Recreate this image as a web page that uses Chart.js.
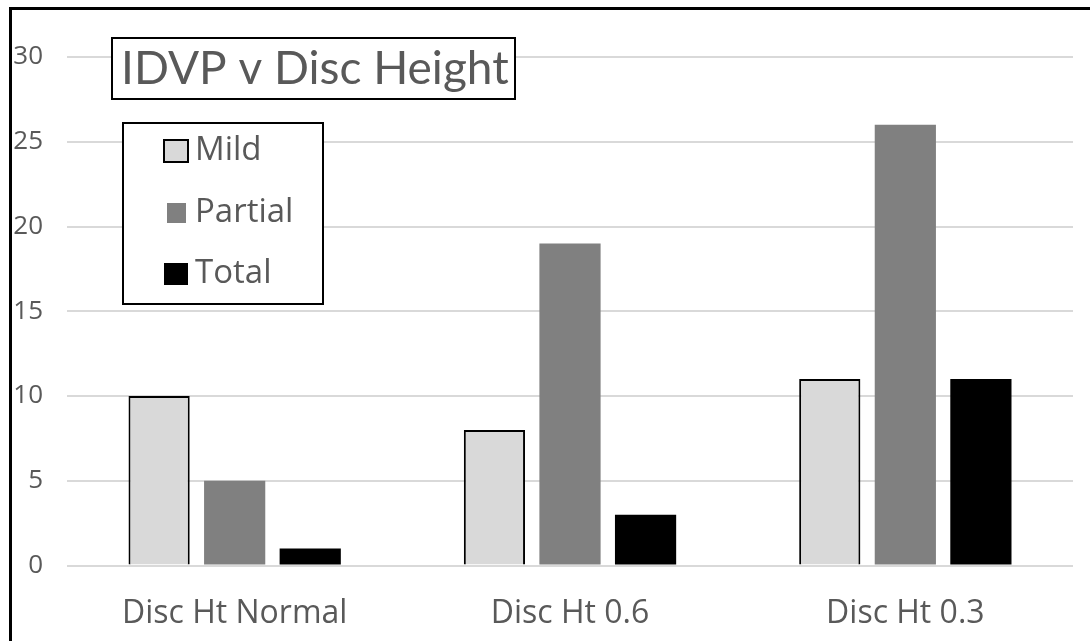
<!DOCTYPE html>
<html>
<head>
<meta charset="utf-8">
<script src="https://cdn.jsdelivr.net/npm/chart.js@4/dist/chart.umd.min.js"></script>
<style>
  html, body { margin: 0; padding: 0; background: #fff; }
  #wrap { width: 1090px; height: 641px; position: relative; }
</style>
</head>
<body>
<div id="wrap"><canvas id="c" width="1090" height="641"></canvas></div>
<script>
// Categories and series
const categories = ['Disc Ht Normal', 'Disc Ht 0.6', 'Disc Ht 0.3'];
const mild = [10, 8, 11];
const partial = [5, 19, 26];
const total = [1, 3, 11];
const yTicks = [0, 5, 10, 15, 20, 25, 30];
const chartTitle = 'IDVP v Disc Height';

const FONT = '"Open Sans", sans-serif';
const TITLE_FONT = 'Lato, "Open Sans", sans-serif';
const TEXT_GREY = '#595959';

// Outer frame, title box and legend box drawn on top of the chart
const decorations = {
  id: 'decorations',
  afterDraw(chart) {
    const ctx = chart.ctx;
    ctx.save();
    // outer frame (runs off the right and bottom edges)
    ctx.strokeStyle = '#000';
    ctx.lineWidth = 3;
    ctx.beginPath();
    ctx.moveTo(10.5, 650);
    ctx.lineTo(10.5, 8.5);
    ctx.lineTo(1100, 8.5);
    ctx.stroke();

    // title box
    ctx.fillStyle = '#fff';
    ctx.fillRect(112, 38, 403, 61);
    ctx.lineWidth = 2;
    ctx.strokeRect(112, 38, 403, 61);
    ctx.fillStyle = TEXT_GREY;
    ctx.font = '46px ' + TITLE_FONT;
    ctx.textBaseline = 'middle';
    ctx.textAlign = 'left';
    ctx.fillText(chartTitle, 121, 69);

    // legend box
    ctx.fillStyle = '#fff';
    ctx.fillRect(123, 123, 200, 181);
    ctx.strokeStyle = '#000';
    ctx.lineWidth = 2;
    ctx.strokeRect(123, 123, 200, 181);

    const rows = [150, 212, 273];
    const ds = chart.data.datasets;
    ctx.font = '33px ' + FONT;
    ds.forEach((d, i) => {
      const y = rows[i];
      ctx.fillStyle = d.backgroundColor;
      if (i === 1) {
        ctx.fillRect(167, y - 9, 19, 20);
      } else {
        ctx.fillRect(164, y - 10, 24, 22);
        if (d.borderWidth) {
          ctx.strokeStyle = '#000';
          ctx.lineWidth = 2;
          ctx.strokeRect(164, y - 10, 24, 22);
        }
      }
      ctx.fillStyle = TEXT_GREY;
      ctx.fillText(d.label, 195, y + 1);
    });
    ctx.restore();
  }
};

new Chart(document.getElementById('c'), {
  type: 'bar',
  data: {
    labels: categories,
    datasets: [
      { label: 'Mild', data: mild, backgroundColor: '#d9d9d9', borderColor: '#000', borderWidth: 2 },
      { label: 'Partial', data: partial, backgroundColor: '#808080', borderWidth: 0 },
      { label: 'Total', data: total, backgroundColor: '#000000', borderWidth: 0 }
    ]
  },
  options: {
    responsive: false,
    animation: false,
    devicePixelRatio: 1,
    layout: { padding: { top: 57, left: 0, right: 17, bottom: 0 } },
    datasets: { bar: { categoryPercentage: 0.676, barPercentage: 0.81 } },
    plugins: {
      legend: { display: false },
      title: { display: false },
      tooltip: { enabled: false }
    },
    scales: {
      x: {
        grid: { display: false, drawTicks: false },
        border: { display: false },
        ticks: { color: TEXT_GREY, font: { family: FONT, size: 32 }, padding: 29 },
        afterFit(scale) { scale.height = 75.5; }
      },
      y: {
        min: 0, max: 30,
        afterBuildTicks(scale) { scale.ticks = yTicks.map(v => ({ value: v })); },
        grid: { color: '#d9d9d9', lineWidth: 2, drawTicks: false },
        border: { display: false },
        ticks: { color: TEXT_GREY, font: { family: FONT, size: 26 }, padding: 24 },
        afterFit(scale) { scale.width = 67; }
      }
    }
  },
  plugins: [decorations]
});
</script>
</body>
</html>
